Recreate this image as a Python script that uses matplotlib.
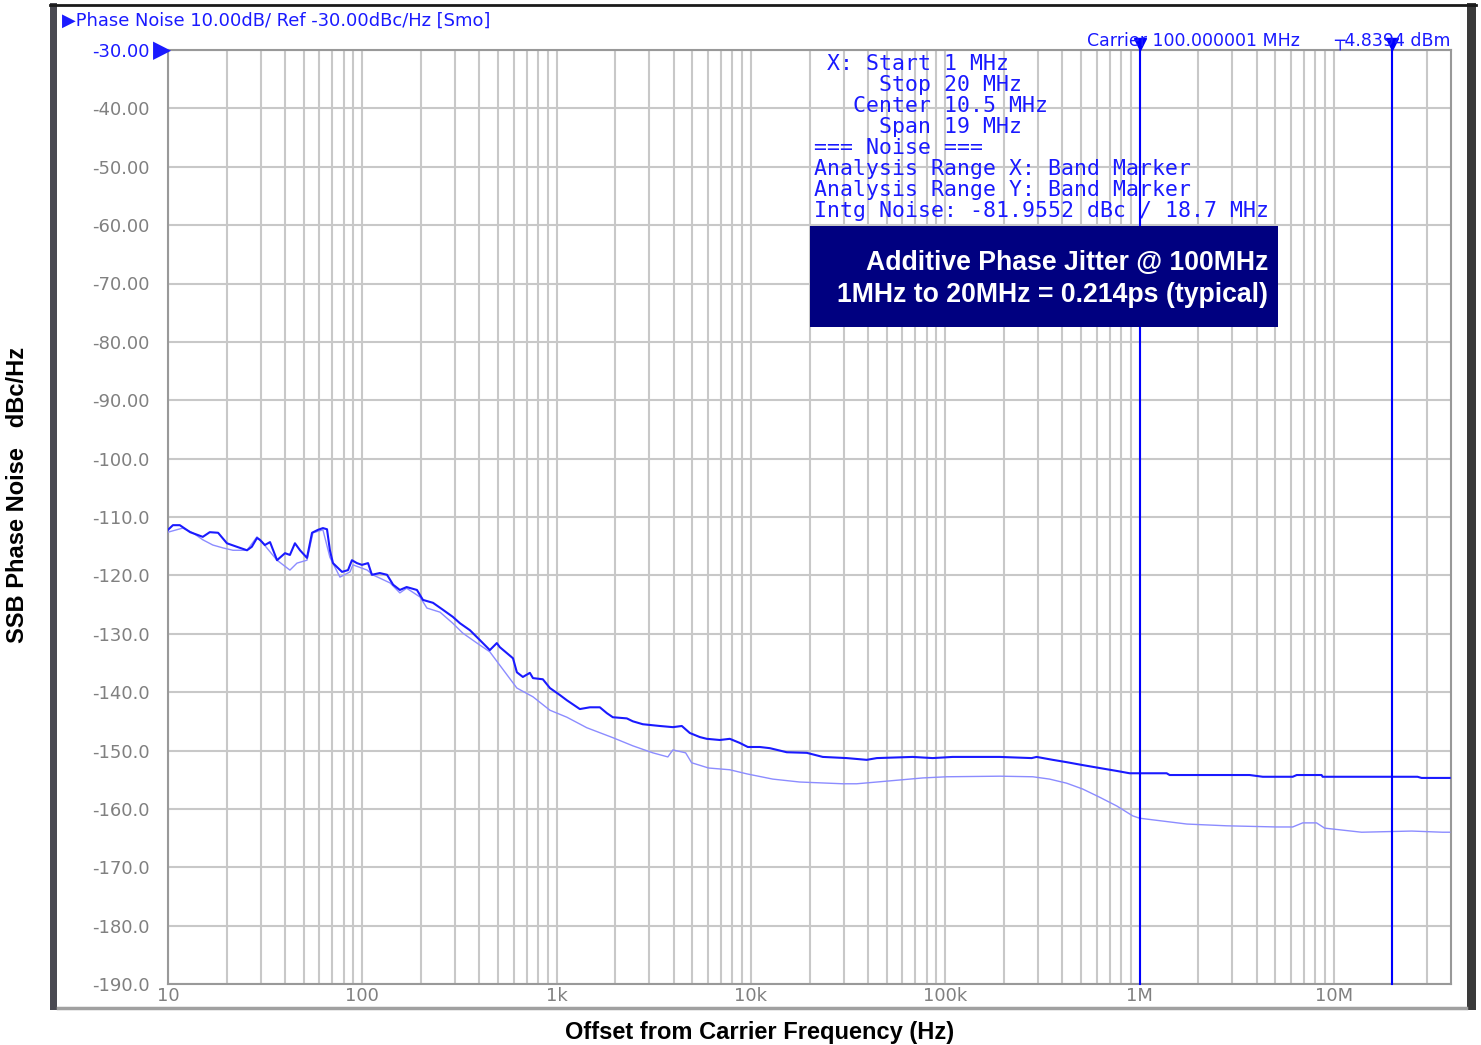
import numpy as np
import matplotlib
matplotlib.use("Agg")
import matplotlib.pyplot as plt
from matplotlib.patches import Rectangle
from matplotlib.lines import Line2D
from matplotlib.ticker import FixedLocator, NullLocator
import matplotlib.transforms as mtransforms

W, H = 1481, 1045

# ---- data ----
freq_dark = [10, 10.6, 11.5, 13.0, 15.1, 16.4, 18.1, 20.1, 22.6, 25.5, 27.0, 28.7, 29.7,
             31.5, 33.5, 36.4, 40.0, 42.4, 45.0, 47.8, 51.9, 55.1, 59.1, 62.7, 65.8, 68.1,
             70.6, 78.6, 84.4, 88.4, 93.8, 99.5, 107, 112, 123, 134, 144, 156, 169, 191,
             205, 231, 260, 292, 318, 358, 403, 453, 492, 510, 596, 624, 670, 728, 755,
             849, 923, 1039, 1129, 1316, 1482, 1668, 1812, 1945, 2296, 2466, 2775, 3395,
             3962, 4406, 4843, 5454, 5924, 6910, 7780, 8750, 9630, 11100, 12500, 15280,
             19360, 23400, 31100, 39400, 44400, 67900, 86100, 109000, 190500, 278000,
             295000, 357000, 421000, 509000, 622000, 762000, 888000, 1.377e6, 1.426e6,
             3.68e6, 4.30e6, 6.13e6, 6.43e6, 8.63e6, 8.74e6, 2.69e7, 2.82e7, 3.94e7]
pn_dark = [-112.2, -111.4, -111.4, -112.6, -113.4, -112.6, -112.7, -114.5, -115.1, -115.7,
           -115.1, -113.6, -113.9, -114.8, -114.3, -117.4, -116.2, -116.5, -114.5, -115.7,
           -117.0, -112.7, -112.2, -111.9, -112.1, -115.7, -117.9, -119.4, -119.1, -117.4,
           -117.9, -118.2, -117.9, -119.9, -119.6, -119.9, -121.6, -122.5, -122.0, -122.5,
           -124.2, -124.7, -125.9, -127.1, -128.2, -129.4, -131.1, -132.8, -131.6, -132.3,
           -134.2, -136.6, -137.4, -136.7, -137.6, -137.8, -139.3, -140.5, -141.4, -142.9,
           -142.6, -142.6, -143.6, -144.3, -144.5, -145.0, -145.5, -145.8, -146.0, -145.8,
           -147.0, -147.7, -148.0, -148.2, -148.0, -148.7, -149.4, -149.4, -149.6, -150.3,
           -150.4, -151.1, -151.3, -151.6, -151.3, -151.1, -151.3, -151.1, -151.1, -151.3,
           -151.1, -151.6, -152.0, -152.5, -153.0, -153.5, -153.9, -153.9, -154.2, -154.2,
           -154.5, -154.5, -154.2, -154.2, -154.5, -154.5, -154.7, -154.7]

freq_light = [10, 11.9, 13.4, 15.1, 17.0, 19.2, 21.6, 25.5, 28.7, 30.8, 36.4, 42.4, 46.1,
              51.9, 55.7, 62.7, 68.1, 76.7, 86.4, 89.5, 106, 113, 139, 156, 169, 198, 215,
              251, 292, 329, 389, 453, 510, 624, 755, 923, 1129, 1429, 1945, 2466, 3125,
              3733, 3962, 4610, 4949, 6050, 7780, 9510, 12940, 17820, 29650, 35000, 44400,
              76600, 101600, 190500, 282000, 344000, 421000, 509000, 622000, 762000,
              921000, 1.0e6, 1.48e6, 1.75e6, 2.80e6, 5.07e6, 6.13e6, 6.90e6, 8.13e6,
              8.95e6, 1.387e7, 2.51e7, 3.62e7, 3.94e7]
pn_light = [-112.6, -111.9, -112.7, -113.9, -114.8, -115.3, -115.7, -115.7, -113.4, -114.5,
            -117.4, -119.1, -117.9, -117.4, -112.7, -112.2, -116.9, -120.3, -119.4, -118.2,
            -119.1, -119.9, -121.3, -123.0, -122.2, -123.7, -125.6, -126.3, -128.2, -129.9,
            -131.6, -133.1, -135.4, -139.3, -140.8, -143.1, -144.3, -146.1, -147.8, -149.2,
            -150.4, -151.1, -149.9, -150.4, -152.1, -153.0, -153.3, -154.0, -154.9, -155.4,
            -155.7, -155.7, -155.4, -154.7, -154.5, -154.4, -154.5, -154.9, -155.6, -156.6,
            -158.0, -159.5, -161.2, -161.6, -162.3, -162.6, -162.9, -163.1, -163.1, -162.4,
            -162.4, -163.3, -164.0, -163.8, -164.0, -164.0]

band_markers = [1e6, 20e6]
x_ticks = [10, 100, 1e3, 1e4, 1e5, 1e6, 1e7]
x_tick_labels = ["10", "100", "1k", "10k", "100k", "1M", "10M"]
y_ticks = list(range(-30, -191, -10))
y_tick_labels = ["-30.00", "-40.00", "-50.00", "-60.00", "-70.00", "-80.00", "-90.00",
                 "-100.0", "-110.0", "-120.0", "-130.0", "-140.0", "-150.0", "-160.0",
                 "-170.0", "-180.0", "-190.0"]

info_lines = [" X: Start 1 MHz",
              "     Stop 20 MHz",
              "   Center 10.5 MHz",
              "     Span 19 MHz",
              "=== Noise ===",
              "Analysis Range X: Band Marker",
              "Analysis Range Y: Band Marker",
              "Intg Noise: -81.9552 dBc / 18.7 MHz"]
box_lines = ["Additive Phase Jitter @ 100MHz", "1MHz to 20MHz = 0.214ps (typical)"]

BLUE = "#1a1aff"
LIGHT = "#8c8cff"
GRID = "#c8c8c8"
TICK = "#808080"


def fx(x):
    return x / W


def fy(y):
    return 1 - y / H


fig = plt.figure(figsize=(W / 100, H / 100), dpi=100)
ax = fig.add_axes([fx(168), fy(984), fx(1451 - 168), (984 - 50) / H])

ax.set_xscale("log")
ax.set_xlim(10, 4e7)
ax.set_ylim(-190, -30)

ax.plot(freq_light, pn_light, color=LIGHT, lw=1.0, zorder=3)
ax.plot(freq_dark, pn_dark, color=BLUE, lw=1.5, zorder=4)

ax.xaxis.set_major_locator(FixedLocator(x_ticks))
ax.set_xticklabels(x_tick_labels)
minors = [m * 10 ** d for d in range(1, 8) for m in range(2, 10) if m * 10 ** d < 4e7]
ax.xaxis.set_minor_locator(FixedLocator(minors))
ax.set_yticks(y_ticks)
ax.set_yticklabels(y_tick_labels)
ax.yaxis.set_minor_locator(NullLocator())
ax.grid(True, which="both", axis="x", color=GRID, lw=1.5)
ax.grid(True, which="major", axis="y", color=GRID, lw=1.5)
ax.tick_params(which="both", length=0, labelsize=13, labelcolor=TICK)
ax.tick_params(axis="y", pad=13)
ax.tick_params(axis="x", pad=2)
ax.get_yticklabels()[0].set_color(BLUE)
for s in ax.spines.values():
    s.set_color("#999999")
    s.set_linewidth(1.5)

# band markers
trans = mtransforms.blended_transform_factory(ax.transData, ax.transAxes)
for f in band_markers:
    ax.plot([f, f], [0, 1.0107], transform=trans, color="#0000ff", lw=1.5,
            clip_on=False, zorder=5)
    ax.plot([f], [1.0065], transform=trans, marker="v", ms=9, color="#0000ff",
            clip_on=False, zorder=6)

# marker info text block
for i, line in enumerate(info_lines):
    ax.text(fx(814), fy(64 + 21 * i), line, transform=fig.transFigure, va="center",
            ha="left", family="DejaVu Sans Mono", fontsize=15.5, color=BLUE,
            zorder=4.5, clip_on=False)

# jitter callout box
ax.add_patch(Rectangle((fx(810), fy(327)), fx(1278 - 810), (327 - 226) / H,
                       transform=fig.transFigure, facecolor="#000080",
                       edgecolor="none", zorder=10, clip_on=False))
for i, line in enumerate(box_lines):
    ax.text(fx(1268), fy(263 + 32 * i), line, transform=fig.transFigure, ha="right",
            va="center", color="white", fontweight="bold", fontsize=19.2,
            family="Liberation Sans", zorder=11, clip_on=False)

# header texts
fig.text(fx(62), fy(21), "\u25b6Phase Noise 10.00dB/ Ref -30.00dBc/Hz [Smo]",
         va="center", ha="left", color=BLUE, fontsize=12.9)
fig.text(fx(1087), fy(41), "Carrier 100.000001 MHz", va="center", ha="left",
         color=BLUE, fontsize=12.5)
fig.text(fx(1451), fy(41), "\u252c4.8394 dBm", va="center", ha="right",
         color=BLUE, fontsize=12.5)
fig.text(fx(162), fy(50), "\u25b6", va="center", ha="center", color=BLUE, fontsize=17)

# axis titles
fig.text(fx(18), fy(495), "SSB Phase Noise   dBc/Hz", rotation=90, ha="center",
         va="center", fontweight="bold", fontsize=17, family="Liberation Sans")
fig.text(fx(760), fy(1032), "Offset from Carrier Frequency (Hz)", ha="center",
         va="center", fontweight="bold", fontsize=17, family="Liberation Sans")

# instrument window frame
fig.add_artist(Rectangle((fx(50), fy(1010)), fx(7), (1010 - 3) / H,
                         transform=fig.transFigure, facecolor="#4a4a52", edgecolor="none"))
fig.add_artist(Rectangle((fx(1467), fy(1010)), fx(9), (1010 - 3) / H,
                         transform=fig.transFigure, facecolor="#3a3a3a", edgecolor="none"))
fig.add_artist(Line2D([fx(50), fx(1476)], [fy(5), fy(5)], transform=fig.transFigure,
                      color="#1a1a1a", lw=2))
fig.add_artist(Line2D([fx(58), fx(1466)], [fy(1008), fy(1008)], transform=fig.transFigure,
                      color="#a0a0a0", lw=2.5))

fig.savefig("out.png", dpi=100)
